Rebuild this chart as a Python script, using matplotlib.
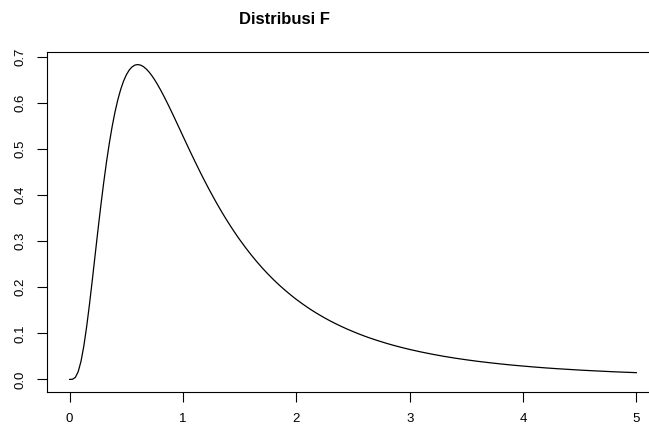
import matplotlib
matplotlib.use("Agg")
from matplotlib import pyplot as plt

plt.rcParams['font.family'] = ['Liberation Sans', 'DejaVu Sans']

# density curve
x = [0.000, 0.025, 0.050, 0.075, 0.100, 0.125, 0.150, 0.175, 0.200, 0.225,
     0.250, 0.275, 0.300, 0.325, 0.350, 0.375, 0.400, 0.425, 0.450, 0.475,
     0.500, 0.525, 0.550, 0.575, 0.600, 0.625, 0.650, 0.675, 0.700, 0.725,
     0.750, 0.775, 0.800, 0.825, 0.850, 0.875, 0.900, 0.925, 0.950, 0.975,
     1.000, 1.025, 1.050, 1.075, 1.100, 1.125, 1.150, 1.175, 1.200, 1.225,
     1.250, 1.275, 1.300, 1.325, 1.350, 1.375, 1.400, 1.425, 1.450, 1.475,
     1.500, 1.550, 1.600, 1.650, 1.700, 1.750, 1.800, 1.850, 1.900, 1.950,
     2.000, 2.050, 2.100, 2.150, 2.200, 2.250, 2.300, 2.350, 2.400, 2.450,
     2.500, 2.550, 2.600, 2.650, 2.700, 2.750, 2.800, 2.850, 2.900, 2.950,
     3.000, 3.100, 3.200, 3.300, 3.400, 3.500, 3.600, 3.700, 3.800, 3.900,
     4.000, 4.100, 4.200, 4.300, 4.400, 4.500, 4.600, 4.700, 4.800, 4.900,
     5.000]
y = [0.0000, 0.0004, 0.0044, 0.0166, 0.0393, 0.0725, 0.1147, 0.1634, 0.2162, 0.2708,
     0.3251, 0.3774, 0.4267, 0.4720, 0.5129, 0.5491, 0.5805, 0.6072, 0.6293, 0.6472,
     0.6611, 0.6714, 0.6783, 0.6822, 0.6834, 0.6823, 0.6791, 0.6740, 0.6674, 0.6594,
     0.6503, 0.6402, 0.6293, 0.6178, 0.6057, 0.5933, 0.5805, 0.5675, 0.5544, 0.5412,
     0.5279, 0.5148, 0.5017, 0.4887, 0.4759, 0.4633, 0.4508, 0.4386, 0.4267, 0.4149,
     0.4035, 0.3923, 0.3813, 0.3706, 0.3602, 0.3501, 0.3403, 0.3307, 0.3214, 0.3123,
     0.3035, 0.2867, 0.2708, 0.2559, 0.2418, 0.2286, 0.2162, 0.2046, 0.1937, 0.1834,
     0.1737, 0.1647, 0.1561, 0.1481, 0.1406, 0.1335, 0.1268, 0.1206, 0.1147, 0.1091,
     0.1039, 0.0989, 0.0942, 0.0898, 0.0857, 0.0818, 0.0780, 0.0745, 0.0712, 0.0681,
     0.0651, 0.0596, 0.0547, 0.0502, 0.0462, 0.0426, 0.0393, 0.0364, 0.0337, 0.0312,
     0.0290, 0.0269, 0.0250, 0.0233, 0.0218, 0.0203, 0.0190, 0.0178, 0.0166, 0.0156,
     0.0147]

xticks = [0, 1, 2, 3, 4, 5]
yticks = [0.0, 0.1, 0.2, 0.3, 0.4, 0.5, 0.6, 0.7]

fig = plt.figure(figsize=(6.49, 4.26), dpi=100)
# plot box runs past the right edge, as in the cropped original
ax = fig.add_axes([47 / 649, 34 / 426, 612 / 649, 340 / 426])
ax.plot(x, y, color='black', linewidth=0.9)

ax.set_xlim(-0.2, 5.2)
ax.set_ylim(-0.0273, 0.7107)
ax.set_xticks(xticks)
ax.set_xticklabels([str(v) for v in xticks])
ax.set_yticks(yticks)
ax.set_yticklabels(['%.1f' % v for v in yticks], rotation=90, va='center')
ax.tick_params(direction='out', length=7, width=0.8, labelsize=9.5, color='black')
ax.tick_params(axis='x', pad=8)
ax.tick_params(axis='y', pad=8)
for s in ax.spines.values():
    s.set_linewidth(0.8)

fig.text(284.5 / 649, 1 - 20 / 426, 'Distribusi F', ha='center', va='center',
         fontsize=12, fontweight='bold')

fig.savefig('out.png', dpi=100)
